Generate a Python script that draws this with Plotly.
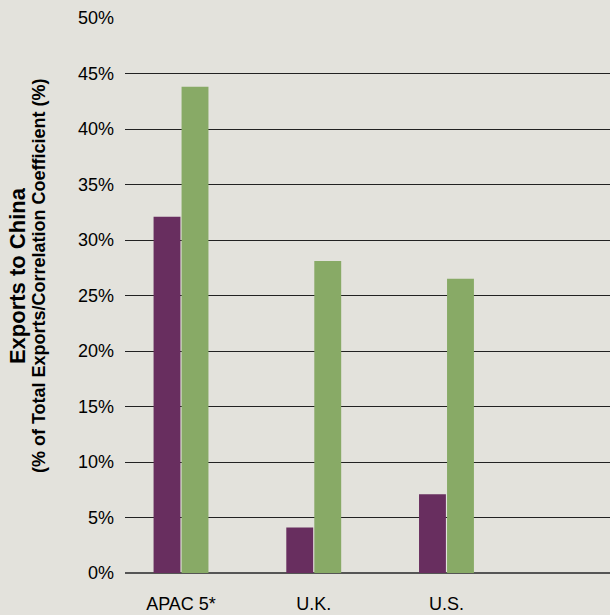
import plotly.graph_objects as go

categories = ["APAC 5*", "U.K.", "U.S."]
exports_to_china = [32.1, 4.1, 7.1]
correlation = [43.8, 28.1, 26.5]
y_ticks = [0, 5, 10, 15, 20, 25, 30, 35, 40, 45, 50]

BG = "#E3E2DC"
PURPLE = "#682E5F"
GREEN = "#88AA66"

fig = go.Figure()
fig.add_trace(go.Bar(x=categories, y=exports_to_china, marker=dict(color=PURPLE, line=dict(width=0)),
                     name="Exports to China"))
fig.add_trace(go.Bar(x=categories, y=correlation, marker=dict(color=GREEN, line=dict(width=0)),
                     name="Correlation Coefficient"))

fig.update_layout(
    width=610, height=615,
    margin=dict(l=125, r=0, t=18, b=42),
    paper_bgcolor=BG, plot_bgcolor=BG,
    barmode="group", bargap=0.578, bargroupgap=0.04,
    showlegend=False,
    font=dict(family="Liberation Sans, Arial, sans-serif", color="#000000", size=18),
)
fig.update_xaxes(
    type="category", range=[-0.422, 3.232], showgrid=False, showline=False,
    ticks="", ticklabelstandoff=18, tickfont=dict(size=18),
)
fig.update_yaxes(
    range=[0, 50], tickvals=y_ticks, ticktext=[f"{v}%" for v in y_ticks],
    showgrid=True, gridcolor="#222222", gridwidth=1.2,
    zeroline=True, zerolinecolor="#555555", zerolinewidth=1.5,
    showline=False, ticks="", ticklabelstandoff=10, tickfont=dict(size=18),
)

fig.add_annotation(text="<b>Exports to China</b>", textangle=-90, showarrow=False,
                   xref="paper", yref="paper", x=(17 - 125) / 485, y=0.535,
                   xanchor="center", yanchor="middle", font=dict(size=22, color="#000000"))
fig.add_annotation(text="<b>(% of Total Exports/Correlation Coefficient (%)</b>", textangle=-90,
                   showarrow=False, xref="paper", yref="paper", x=(39 - 125) / 485, y=0.535,
                   xanchor="center", yanchor="middle", font=dict(size=18, color="#000000"))

fig.write_html("out.html")
